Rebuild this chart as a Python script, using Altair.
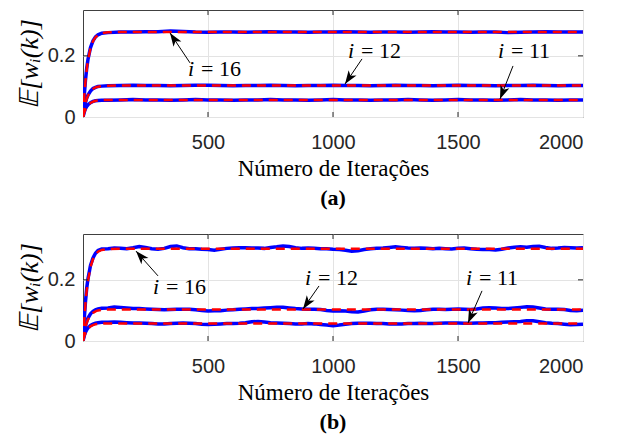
import math
import altair as alt
import pandas as pd

# ---------------- data ----------------
K_EARLY = [0, 5, 10, 15, 20, 30, 40, 50, 60, 75]
K_TOP = list(range(100, 2001, 50))
K_BOT = list(range(100, 2001, 25))
K_THEORY = [0, 5, 10, 15, 20, 30, 40, 50, 60, 75, 100, 150, 2000]

# theoretical (red dashed) curves
TH_A16 = [0, 0.067, 0.118, 0.157, 0.186, 0.225, 0.248, 0.261, 0.268, 0.274, 0.277, 0.278, 0.278]
TH_A12 = [0, 0.027, 0.046, 0.060, 0.070, 0.084, 0.092, 0.097, 0.099, 0.101, 0.102, 0.103, 0.103]
TH_A11 = [0, 0.015, 0.025, 0.033, 0.038, 0.046, 0.050, 0.053, 0.054, 0.055, 0.056, 0.056, 0.056]
TH_B16 = [0, 0.067, 0.124, 0.168, 0.198, 0.242, 0.268, 0.283, 0.292, 0.298, 0.301, 0.302, 0.302]
TH_B12 = [0, 0.027, 0.046, 0.060, 0.070, 0.084, 0.092, 0.097, 0.100, 0.102, 0.103, 0.103, 0.103]
TH_B11 = [0, 0.015, 0.026, 0.034, 0.040, 0.048, 0.052, 0.055, 0.056, 0.057, 0.057, 0.057, 0.057]

# simulated (blue) curves, early part
SIM_A16_EARLY = [0, 0.070, 0.122, 0.160, 0.189, 0.227, 0.249, 0.262, 0.269, 0.274]
SIM_A12_EARLY = [0, 0.029, 0.048, 0.062, 0.072, 0.085, 0.093, 0.097, 0.100, 0.101]
SIM_A11_EARLY = [0, 0.016, 0.027, 0.035, 0.040, 0.047, 0.051, 0.053, 0.054, 0.055]
SIM_B16_EARLY = [0, 0.072, 0.130, 0.174, 0.204, 0.247, 0.272, 0.287, 0.296, 0.301]
SIM_B12_EARLY = [0, 0.030, 0.050, 0.064, 0.075, 0.089, 0.097, 0.102, 0.105, 0.107]
SIM_B11_EARLY = [0, 0.017, 0.029, 0.037, 0.043, 0.051, 0.055, 0.058, 0.060, 0.061]

# simulated (blue) curves, steady part  (panel a: every 50 from 100)
SIM_A16 = [0.276, 0.278, 0.278, 0.279, 0.279, 0.281, 0.280, 0.278, 0.277, 0.278,
           0.278, 0.277, 0.278, 0.279, 0.278, 0.278, 0.277, 0.278, 0.278, 0.279,
           0.278, 0.277, 0.278, 0.278, 0.277, 0.278, 0.279, 0.278, 0.278, 0.277,
           0.278, 0.278, 0.276, 0.277, 0.278, 0.279, 0.278, 0.278, 0.278]
SIM_A12 = [0.102, 0.103, 0.104, 0.103, 0.103, 0.102, 0.103, 0.104, 0.104, 0.103,
           0.102, 0.103, 0.103, 0.104, 0.103, 0.102, 0.103, 0.103, 0.104, 0.103,
           0.103, 0.102, 0.103, 0.104, 0.103, 0.103, 0.102, 0.103, 0.104, 0.103,
           0.103, 0.102, 0.103, 0.103, 0.104, 0.103, 0.102, 0.103, 0.103]
SIM_A11 = [0.055, 0.056, 0.057, 0.056, 0.056, 0.055, 0.056, 0.057, 0.056, 0.056,
           0.055, 0.056, 0.056, 0.057, 0.056, 0.056, 0.055, 0.056, 0.057, 0.056,
           0.056, 0.055, 0.056, 0.056, 0.057, 0.056, 0.055, 0.056, 0.057, 0.056,
           0.056, 0.055, 0.056, 0.057, 0.056, 0.056, 0.055, 0.056, 0.056]
# panel b: every 25 from 100
SIM_B16 = [0.302, 0.304, 0.303, 0.302, 0.305, 0.309, 0.306, 0.302, 0.300, 0.303,
           0.309, 0.311, 0.305, 0.302, 0.302, 0.300, 0.299, 0.297, 0.300, 0.303,
           0.304, 0.305, 0.305, 0.304, 0.304, 0.303, 0.306, 0.308, 0.311, 0.309,
           0.305, 0.303, 0.304, 0.303, 0.302, 0.302, 0.300, 0.299, 0.297, 0.294,
           0.295, 0.299, 0.302, 0.303, 0.304, 0.306, 0.308, 0.306, 0.304, 0.303,
           0.304, 0.303, 0.302, 0.303, 0.302, 0.301, 0.303, 0.304, 0.302, 0.300,
           0.299, 0.299, 0.298, 0.300, 0.304, 0.307, 0.308, 0.307, 0.309, 0.310,
           0.306, 0.303, 0.304, 0.306, 0.305, 0.304, 0.305]
SIM_B12 = [0.108, 0.111, 0.110, 0.108, 0.106, 0.106, 0.105, 0.104, 0.103, 0.102,
           0.103, 0.104, 0.104, 0.104, 0.102, 0.100, 0.098, 0.099, 0.099, 0.101,
           0.102, 0.104, 0.105, 0.106, 0.106, 0.108, 0.109, 0.110, 0.110, 0.108,
           0.106, 0.105, 0.104, 0.104, 0.103, 0.100, 0.098, 0.099, 0.098, 0.096,
           0.095, 0.098, 0.102, 0.104, 0.104, 0.103, 0.102, 0.101, 0.100, 0.099,
           0.100, 0.102, 0.104, 0.104, 0.103, 0.104, 0.105, 0.104, 0.103, 0.105,
           0.108, 0.109, 0.108, 0.106, 0.106, 0.108, 0.110, 0.112, 0.111, 0.108,
           0.105, 0.104, 0.104, 0.103, 0.100, 0.099, 0.101]
SIM_B11 = [0.061, 0.062, 0.061, 0.060, 0.059, 0.059, 0.058, 0.057, 0.056, 0.056,
           0.057, 0.058, 0.059, 0.058, 0.057, 0.055, 0.054, 0.055, 0.056, 0.057,
           0.057, 0.058, 0.060, 0.063, 0.064, 0.062, 0.060, 0.059, 0.058, 0.057,
           0.056, 0.056, 0.057, 0.056, 0.054, 0.052, 0.050, 0.052, 0.055, 0.057,
           0.058, 0.058, 0.058, 0.057, 0.057, 0.056, 0.056, 0.056, 0.057, 0.057,
           0.058, 0.057, 0.057, 0.058, 0.059, 0.059, 0.059, 0.058, 0.058, 0.059,
           0.059, 0.060, 0.060, 0.061, 0.062, 0.063, 0.064, 0.066, 0.066, 0.063,
           0.060, 0.058, 0.057, 0.055, 0.053, 0.054, 0.055]

ANN_VAR = ["i", "i", "i"]
ANN_REST = ["= 16", "= 12", "= 11"]
# left edge of label, vertical centre of label, arrow tail, arrow tip
A_TEXT_X = [420, 1060, 1660]
A_TEXT_Y = [0.157, 0.216, 0.216]
A_TAIL_X = [428, 1116, 1720]
A_TAIL_Y = [0.177, 0.190, 0.167]
A_TIP_X = [348, 1048, 1668]
A_TIP_Y = [0.275, 0.108, 0.059]
B_TEXT_X = [280, 888, 1532]
B_TEXT_Y = [0.177, 0.206, 0.206]
B_TAIL_X = [300, 944, 1596]
B_TAIL_Y = [0.213, 0.180, 0.164]
B_TIP_X = [212, 880, 1540]
B_TIP_Y = [0.294, 0.105, 0.059]

X_TICKS = [500, 1000, 1500, 2000]
Y_TICKS = [0, 0.2]
X_DOMAIN = [0, 2000]
Y_DOMAIN = [0, 0.35]

W, H = 500, 107

ARROW_PATH = "M0,0 L0.6,1.7 L0,1.25 L-0.6,1.7 Z"


def long_df(pairs):
    rows = []
    for name, ks, vs in pairs:
        assert len(ks) == len(vs), name
        for k, v in zip(ks, vs):
            rows.append({"k": k, "v": v, "s": name})
    return pd.DataFrame(rows)


def ann_df(tx, ty, lx, ly, px, py):
    rows = []
    for var, rest, a, b, c, d, e, f in zip(ANN_VAR, ANN_REST, tx, ty, lx, ly, px, py):
        dxp = (e - c) / (X_DOMAIN[1] - X_DOMAIN[0]) * W
        dyp = -(f - d) / (Y_DOMAIN[1] - Y_DOMAIN[0]) * H
        ang = math.degrees(math.atan2(dxp, -dyp)) % 360
        rows.append({"var": var, "rest": rest, "tx": a, "ty": b, "lx": c, "ly": d,
                     "px": e, "py": f, "ang": ang})
    return pd.DataFrame(rows)


xs = alt.Scale(domain=X_DOMAIN, nice=False, zero=False)
ys = alt.Scale(domain=Y_DOMAIN, nice=False, zero=False)

X_AXIS = alt.Axis(values=X_TICKS, title="Número de Iterações", grid=True,
                  ticks=False, tickSize=0, domain=False, labelPadding=15,
                  titlePadding=5, format="d")
Y_AXIS = alt.Axis(values=Y_TICKS, title="\U0001D53C[w\u1D62(k)]",
                  grid=True, ticks=False, tickSize=0, domain=False,
                  labelPadding=8, titlePadding=5, format=".1~f")


def panel(sim_df, th_df, ann, caption):
    base_x = alt.X("k:Q", scale=xs, axis=X_AXIS)
    base_y = alt.Y("v:Q", scale=ys, axis=Y_AXIS)
    blue = alt.Chart(sim_df).mark_line(color="#0000ff", strokeWidth=3.5, clip=True).encode(
        x=base_x, y=base_y, detail="s:N")
    red = alt.Chart(th_df).mark_line(color="#ff0000", strokeWidth=2.5,
                                     strokeDash=[9, 6], clip=True).encode(
        x=base_x, y=base_y, detail="s:N")
    xt = pd.DataFrame({"t": X_TICKS[:-1]})
    yt = pd.DataFrame({"t": [0.2]})
    tick_b = alt.Chart(xt).mark_rule(color="#262626").encode(
        x=alt.X("t:Q", scale=xs), y=alt.value(H), y2=alt.value(H - 5))
    tick_t = alt.Chart(xt).mark_rule(color="#262626").encode(
        x=alt.X("t:Q", scale=xs), y=alt.value(0), y2=alt.value(5))
    tick_l = alt.Chart(yt).mark_rule(color="#262626").encode(
        y=alt.Y("t:Q", scale=ys), x=alt.value(0), x2=alt.value(5))
    tick_r = alt.Chart(yt).mark_rule(color="#262626").encode(
        y=alt.Y("t:Q", scale=ys), x=alt.value(W), x2=alt.value(W - 5))
    lines = alt.Chart(ann).mark_rule(color="black", strokeWidth=1).encode(
        x=alt.X("lx:Q", scale=xs), y=alt.Y("ly:Q", scale=ys),
        x2="px:Q", y2="py:Q")
    heads = alt.Chart(ann).mark_point(shape=ARROW_PATH, filled=True, size=250,
                                      color="black", opacity=1).encode(
        x=alt.X("px:Q", scale=xs), y=alt.Y("py:Q", scale=ys),
        angle=alt.Angle("ang:Q", scale=None))
    t_var = alt.Chart(ann).mark_text(font="Liberation Serif", fontSize=22,
                                     fontStyle="italic", color="black",
                                     align="left", baseline="middle").encode(
        x=alt.X("tx:Q", scale=xs), y=alt.Y("ty:Q", scale=ys), text="var:N")
    t_rest = alt.Chart(ann).mark_text(font="Liberation Serif", fontSize=22,
                                      color="black", align="left", dx=13,
                                      baseline="middle").encode(
        x=alt.X("tx:Q", scale=xs), y=alt.Y("ty:Q", scale=ys), text="rest:N")
    return alt.layer(blue, red, tick_b, tick_t, tick_l, tick_r, lines, heads,
                     t_var, t_rest).properties(
        width=W, height=H,
        title=alt.TitleParams(caption, orient="bottom", font="Liberation Serif",
                              fontSize=22, fontWeight="bold", frame="group",
                              anchor="middle", offset=8, color="black"))


sim_a = long_df([
    ("16", K_EARLY + K_TOP, SIM_A16_EARLY + SIM_A16),
    ("12", K_EARLY + K_TOP, SIM_A12_EARLY + SIM_A12),
    ("11", K_EARLY + K_TOP, SIM_A11_EARLY + SIM_A11)])
th_a = long_df([("16", K_THEORY, TH_A16), ("12", K_THEORY, TH_A12), ("11", K_THEORY, TH_A11)])
sim_b = long_df([
    ("16", K_EARLY + K_BOT, SIM_B16_EARLY + SIM_B16),
    ("12", K_EARLY + K_BOT, SIM_B12_EARLY + SIM_B12),
    ("11", K_EARLY + K_BOT, SIM_B11_EARLY + SIM_B11)])
th_b = long_df([("16", K_THEORY, TH_B16), ("12", K_THEORY, TH_B12), ("11", K_THEORY, TH_B11)])

pa = panel(sim_a, th_a, ann_df(A_TEXT_X, A_TEXT_Y, A_TAIL_X, A_TAIL_Y, A_TIP_X, A_TIP_Y), "(a)")
pb = panel(sim_b, th_b, ann_df(B_TEXT_X, B_TEXT_Y, B_TAIL_X, B_TAIL_Y, B_TIP_X, B_TIP_Y), "(b)")

chart = alt.vconcat(pa, pb, spacing=23).properties(
    padding={"left": 7, "top": 1, "right": 5, "bottom": 5},
    background="white",
).configure_view(stroke="#404040", strokeWidth=1).configure_axis(
    labelFont="Liberation Sans", labelFontSize=20, labelColor="#262626",
    titleFont="Liberation Serif", titleFontSize=23, titleFontWeight="normal",
    titleColor="black", gridColor="#e3e3e3", gridWidth=1,
).configure_axisY(titleFontSize=26, titleFontStyle="italic")

chart.save("out.html", embed_options={"renderer": "svg", "actions": False})
